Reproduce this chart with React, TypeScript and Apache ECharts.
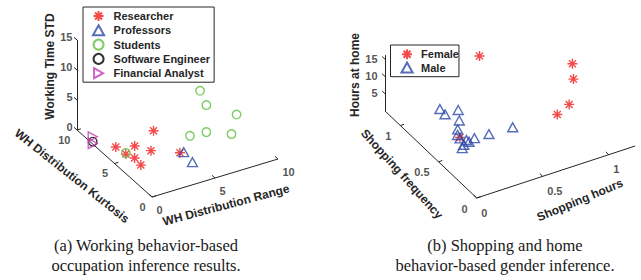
import React, { useEffect, useRef } from "react";
import * as echarts from "echarts";

// ---------- (a) Working behaviour: [WH distribution range, WH distribution kurtosis, working time STD]
const researcherPts = [
  [3.1, 5, 3.5], [0.7, 6, 1.2], [1.6, 5, 1.9], [2.3, 4, 1.8],
  [0.9, 5, 1.0], [1.0, 4, 1.4], [0.9, 3, 1.4], [4.0, 3, 1.5],
];
const professorPts = [[4.3, 3, 1.4], [4.4, 2, 0.8]];
const studentPts = [
  [5.6, 3, 10.8], [6.1, 3, 8.1], [7.9, 2, 6.5], [4.8, 3, 3.8],
  [6.1, 3, 3.6], [7.5, 2, 3.5], [0.9, 5, 1.2],
];
const engineerPts = [[0, 7.9, 0.4]];
const analystPts = [[0, 7.9, 1.2], [0, 7.9, 0.1]];
const rangeTicks = [0, 5, 10];
const kurtTicks = [0, 5, 10];
const stdTicks = [0, 5, 10, 15];

// ---------- (b) Shopping & home: [shopping hours, shopping frequency, hours at home]
const femalePts = [
  [0.6, 1.0, 12.6], [1.13, 0.7, 10.0], [1.08, 0.6, 8.3],
  [0.99, 0.5, 4.2], [0.9, 0.5, 2.4], [0.22, 0.6, 2.2],
];
const malePts = [
  [0.3, 1.0, 1.0], [0.31, 0.95, 0.4], [0.41, 0.95, 0.4], [0.36, 0.85, 0.1],
  [0.29, 0.75, 0.5], [0.26, 0.7, 0.3], [0.25, 0.65, 0.5], [0.27, 0.6, 0.8],
  [0.22, 0.55, 1.1], [0.18, 0.5, 1.7], [0.33, 0.6, 0.6], [0.44, 0.6, 0.4],
  [0.62, 0.6, 0.1], [0.26, 0.55, 1.5],
];
const hoursTicks = [0, 0.5, 1];
const freqTicks = [0, 0.5, 1];
const homeTicks = [5, 10, 15];

const captionA = ["(a) Working behavior-based", "occupation inference results."];
const captionB = ["(b) Shopping and home", "behavior-based gender inference."];

// ---------- layout (orthographic views)
type View = {
  o: number[]; ex: number[]; ey: number[]; ez: number[];
  min: number[]; max: number[];
  xOff: number[]; yOff: number[]; zOff: number[];
};
const viewA: View = {
  o: [152, 197], ex: [12.6, -3.8], ey: [-7.5, -6.7], ez: [0, -6],
  min: [0, 0, 0], max: [10, 10, 15],
  xOff: [5, 13], yOff: [-6, 10], zOff: [-4, -2.5],
};
const viewB: View = {
  o: [476.7, 198], ex: [132, -43.3], ey: [-76.4, -72.5], ez: [0, -3.45],
  min: [0, 0, 0], max: [1.2, 1.2, 16.2],
  xOff: [5, 15], yOff: [-8.5, 11], zOff: [-7, 0],
};

const W = 641;
const H = 280;
const AX = "#262626";
const SANS = "Liberation Sans";
const SERIF = "Liberation Serif";

const ASTER = "path://M5,0L5,10M0,5L10,5M1.5,1.5L8.5,8.5M1.5,8.5L8.5,1.5";
const TRI_UP = "path://M5,0L10,9L0,9Z";
const TRI_RIGHT = "path://M0,0L9,5L0,10Z";

const proj = (v: View, p: number[]) => {
  const dx = p[0] - v.min[0], dy = p[1] - v.min[1], dz = p[2] - v.min[2];
  return [
    v.o[0] + dx * v.ex[0] + dy * v.ey[0] + dz * v.ez[0],
    v.o[1] + dx * v.ex[1] + dy * v.ey[1] + dz * v.ez[1],
  ];
};
const unit = (d: number[]) => {
  const l = Math.hypot(d[0], d[1]);
  return [d[0] / l, d[1] / l];
};

function axisSeries(v: View, xt: number[], yt: number[], zt: number[], id: string) {
  const [x0, y0, z0] = v.min;
  const [, y1, z1] = v.max;
  const segs: number[][][] = [];
  segs.push([proj(v, [x0, y0, z0]), proj(v, [v.max[0], y0, z0])]);
  segs.push([proj(v, [x0, y0, z0]), proj(v, [x0, y1, z0])]);
  segs.push([proj(v, [x0, y1, z0]), proj(v, [x0, y1, z1])]);
  const ux = unit(v.ex), uy = unit(v.ey);
  const TL = 4;
  xt.forEach((t) => {
    const p = proj(v, [t, y0, z0]);
    segs.push([p, [p[0] + uy[0] * TL, p[1] + uy[1] * TL]]);
  });
  yt.forEach((t) => {
    const p = proj(v, [x0, t, z0]);
    segs.push([p, [p[0] + ux[0] * TL, p[1] + ux[1] * TL]]);
  });
  zt.forEach((t) => {
    const p = proj(v, [x0, y1, t]);
    segs.push([p, [p[0] + uy[0] * TL, p[1] + uy[1] * TL]]);
  });
  const labelItems = (ticks: number[], pt: (t: number) => number[], off: number[], align: string) =>
    ticks.map((t) => {
      const p = pt(t);
      return {
        value: [p[0] + off[0], p[1] + off[1]],
        t: String(t),
        label: { align },
      };
    });
  const labels = [
    ...labelItems(xt, (t) => proj(v, [t, y0, z0]), v.xOff, "left"),
    ...labelItems(yt, (t) => proj(v, [x0, t, z0]), v.yOff, "right"),
    ...labelItems(zt, (t) => proj(v, [x0, y1, t]), v.zOff, "right"),
  ];
  return [
    {
      id: id + "-lines",
      type: "lines",
      coordinateSystem: "cartesian2d",
      silent: true,
      z: 1,
      lineStyle: { color: AX, width: 1, opacity: 1 },
      data: segs.map((c) => ({ coords: c })),
    },
    {
      id: id + "-labels",
      type: "scatter",
      silent: true,
      symbolSize: 1,
      itemStyle: { color: "rgba(0,0,0,0)" },
      z: 2,
      label: {
        show: true,
        position: [0, 0],
        verticalAlign: "middle",
        formatter: (p: any) => p.data.t,
        color: AX,
        fontSize: 11,
        fontWeight: "bold",
        fontFamily: SANS,
      },
      data: labels,
    },
  ];
}

function markerSeries(name: string, v: View, pts: number[][], symbol: string, size: number, color: string) {
  return {
    name,
    type: "scatter",
    symbol,
    symbolSize: size,
    symbolKeepAspect: true,
    z: 3,
    itemStyle: { color: "rgba(0,0,0,0)", borderColor: color, borderWidth: 1.4 },
    data: pts.map((p) => proj(v, p)),
  };
}

function titleText(text: string, x: number, y: number, deg: number, size = 12) {
  return {
    type: "text",
    x,
    y,
    rotation: (deg * Math.PI) / 180,
    silent: true,
    style: {
      text,
      fill: AX,
      fontSize: size,
      fontWeight: "bold",
      fontFamily: SANS,
      align: "center",
      verticalAlign: "middle",
    },
  };
}

function captionText(lines: string[], x: number, y: number) {
  return {
    type: "text",
    x,
    y,
    silent: true,
    style: {
      text: lines.join("\n"),
      fill: "#1a1a1a",
      fontSize: 16.5,
      lineHeight: 19.8,
      fontFamily: SERIF,
      align: "center",
      verticalAlign: "top",
    },
  };
}

const RED = "#f01e1e";
const BLUE = "#2c48a8";
const GREEN = "#5cbf3c";
const MAGENTA = "#c040b0";

export default function App() {
  const ref = useRef<HTMLDivElement>(null);
  useEffect(() => {
    document.body.style.margin = "0";
    if (!ref.current) return;
    const chart = echarts.init(ref.current, undefined, { renderer: "svg" });
    const legendText = { fontSize: 11, fontWeight: "bold", color: AX, fontFamily: SANS, lineHeight: 12, padding: [0, 0, 0, 3] };
    chart.setOption({
      animation: false,
      backgroundColor: "#ffffff",
      grid: { left: 0, right: 0, top: 0, bottom: 0 },
      xAxis: { type: "value", min: 0, max: W, show: false },
      yAxis: { type: "value", min: 0, max: H, inverse: true, show: false },
      legend: [
        {
          data: ["Researcher", "Professors", "Students", "Software Engineer", "Financial Analyst"],
          orient: "vertical",
          left: 83,
          top: 7,
          itemWidth: 14,
          itemHeight: 10,
          itemGap: 2.3,
          padding: [3, 4, 3, 9],
          borderColor: AX,
          borderWidth: 1,
          borderRadius: 0,
          backgroundColor: "#ffffff",
          selectedMode: false,
          textStyle: legendText,
        },
        {
          data: ["Female", "Male"],
          orient: "vertical",
          left: 390.5,
          top: 45,
          itemWidth: 14,
          itemHeight: 10,
          itemGap: 1.3,
          padding: [3.2, 0, 3.2, 10],
          borderColor: AX,
          borderWidth: 1,
          borderRadius: 0,
          backgroundColor: "#ffffff",
          selectedMode: false,
          textStyle: { ...legendText, padding: [0, 0, 0, 2] },
        },
      ],
      series: [
        ...axisSeries(viewA, rangeTicks, kurtTicks, stdTicks, "a"),
        ...axisSeries(viewB, hoursTicks, freqTicks, homeTicks, "b"),
        markerSeries("Researcher", viewA, researcherPts, ASTER, 10, RED),
        markerSeries("Professors", viewA, professorPts, TRI_UP, 10, BLUE),
        markerSeries("Students", viewA, studentPts, "circle", 8.5, GREEN),
        markerSeries("Software Engineer", viewA, engineerPts, "circle", 8.5, "#000000"),
        markerSeries("Financial Analyst", viewA, analystPts, TRI_RIGHT, 10, MAGENTA),
        markerSeries("Female", viewB, femalePts, ASTER, 10, RED),
        markerSeries("Male", viewB, malePts, TRI_UP, 10, BLUE),
      ],
      graphic: [
        titleText("Working Time STD", 50, 66.5, 90),
        titleText("WH Distribution Kurtosis", 72, 176, -38.5),
        titleText("WH Distribution Range", 226, 205, 14.9),
        titleText("Hours at home", 355, 75, 90),
        titleText("Shopping frequency", 402, 174, -48),
        titleText("Shopping hours", 580, 200, 22.7),
        captionText(captionA, 146, 236),
        captionText(captionB, 505, 236),
      ],
    });
    return () => chart.dispose();
  }, []);
  return <div ref={ref} style={{ width: W, height: H }} />;
}
